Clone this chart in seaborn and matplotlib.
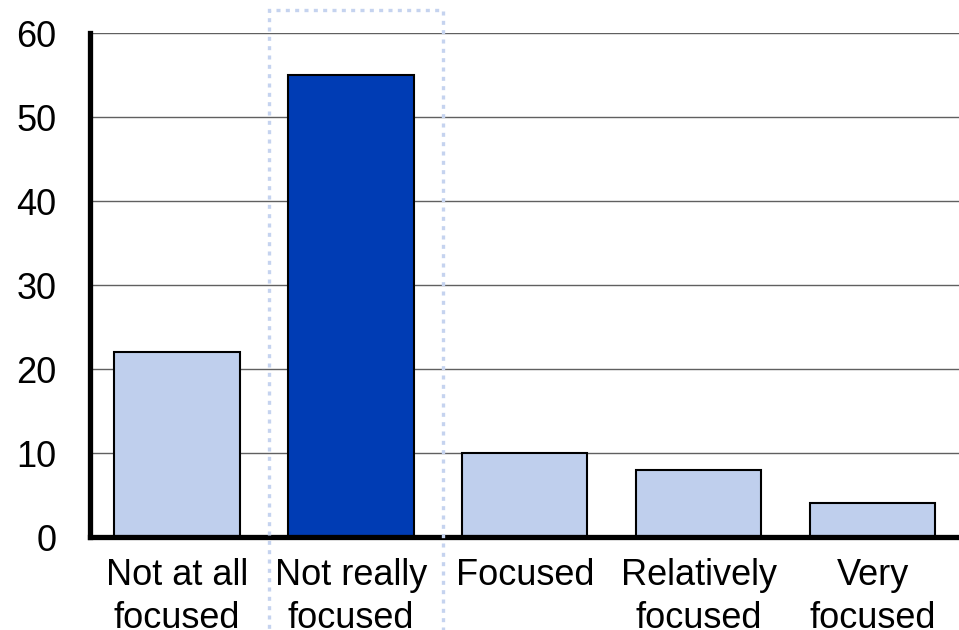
import matplotlib
matplotlib.use("Agg")
import matplotlib.pyplot as plt
import matplotlib.transforms as mtransforms
from matplotlib.patches import Rectangle
import pandas as pd
import seaborn as sns

categories = ["Not at all\nfocused", "Not really\nfocused", "Focused",
              "Relatively\nfocused", "Very\nfocused"]
values = [22, 55, 10, 8, 4]
bar_colors = ["#bfcfed", "#003cb4", "#bfcfed", "#bfcfed", "#bfcfed"]
y_ticks = [0, 10, 20, 30, 40, 50, 60]
highlight = 1

sns.set_style("white")
plt.rcParams["font.family"] = ["Liberation Sans", "DejaVu Sans"]

df = pd.DataFrame({"category": categories, "value": values})

fig = plt.figure(figsize=(9.59, 6.3), dpi=100)
ax = fig.add_axes([0.0938, 0.1476, 0.907, 0.8])

sns.barplot(
    data=df,
    x="category",
    y="value",
    hue="category",
    palette=dict(zip(categories, bar_colors)),
    legend=False,
    width=0.72,
    edgecolor="black",
    linewidth=1.5,
    saturation=1,
    ax=ax,
    zorder=3
)

ax.set_xlim(-0.5, len(categories) - 0.5)
ax.set_ylim(0, 60)
ax.set_yticks(y_ticks)
ax.set_xlabel("")
ax.set_ylabel("")

ax.yaxis.grid(True, color="#606060", linewidth=1.0, zorder=0)
ax.set_axisbelow(True)

for side in ["top", "right"]:
    ax.spines[side].set_visible(False)
ax.spines["left"].set_linewidth(3.8)
ax.spines["bottom"].set_linewidth(3.8)
ax.spines["left"].set_color("black")
ax.spines["bottom"].set_color("black")
ax.spines["bottom"].set_zorder(5)

ax.tick_params(axis="y", direction="in", length=9, width=3.8,
               labelsize=26, pad=24, colors="black")
ax.tick_params(axis="x", length=0, labelsize=26, pad=15, colors="black")
for lbl in ax.get_xticklabels():
    lbl.set_linespacing(1.3)

# dotted box around the highlighted category
trans = mtransforms.blended_transform_factory(ax.transData, ax.transData)
box = Rectangle(
    (highlight - 0.47, -12), 1.0, 74.7,
    transform=trans,
    fill=False,
    edgecolor="#c5d3ef",
    linewidth=2.4,
    linestyle=(0, (1.2, 1.6)),
    clip_on=False,
    zorder=6
)
ax.add_patch(box)

plt.savefig("out.png", dpi=100)
